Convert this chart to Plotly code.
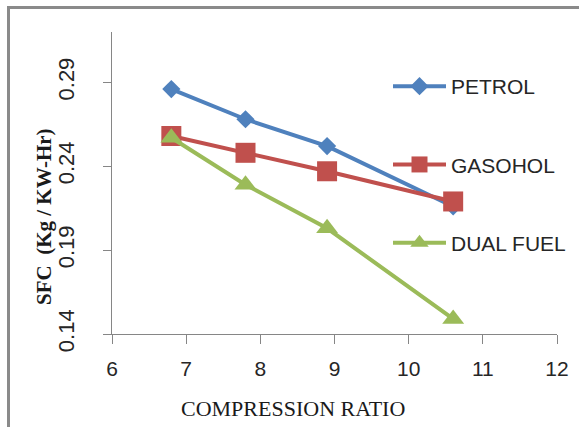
import plotly.graph_objects as go

# Specific fuel consumption against compression ratio
compression_ratio = [6.8, 7.8, 8.9, 10.6]
petrol = [0.286, 0.268, 0.252, 0.216]
gasohol = [0.258, 0.248, 0.237, 0.219]
dual_fuel = [0.257, 0.229, 0.203, 0.149]

series_names = ["PETROL", "GASOHOL", "DUAL FUEL"]
series_values = [petrol, gasohol, dual_fuel]
series_colors = ["#4F81BD", "#C0504D", "#9BBB59"]
series_symbols = ["diamond", "square", "triangle-up"]
series_sizes = [14, 20, 19]

x_ticks = [6, 7, 8, 9, 10, 11, 12]
y_ticks = [0.14, 0.19, 0.24, 0.29]

W, H = 579, 427
L, R, T, B = 112, 22, 32, 93
PW, PH = W - L - R, H - T - B


def px_x(px):
    return (px - L) / PW


def px_y(py):
    return (H - B - py) / PH


fig = go.Figure()
for i, (name, vals, col, sym, sz) in enumerate(
        zip(series_names, series_values, series_colors, series_symbols, series_sizes)):
    fig.add_trace(go.Scatter(
        x=compression_ratio, y=vals, name=name, mode="lines+markers",
        line=dict(color=col, width=4),
        marker=dict(color=col, symbol=sym, size=sz, line=dict(width=0)),
        legendgroup=f"g{i}",
    ))

axis_color = "#868686"
tick_font = dict(family="Liberation Sans, Arial, sans-serif", size=21, color="#262626")

fig.update_layout(
    width=W, height=H,
    margin=dict(l=L, r=R, t=T, b=B, pad=0, autoexpand=False),
    paper_bgcolor="white", plot_bgcolor="white",
    showlegend=True,
    legend=dict(
        x=px_x(388), y=px_y(66), xanchor="left", yanchor="top",
        font=dict(family="Liberation Sans, Arial, sans-serif", size=21, color="#262626"),
        tracegroupgap=48, bgcolor="rgba(0,0,0,0)", borderwidth=0,
        itemwidth=53,
    ),
    xaxis=dict(
        range=[6, 12], tickvals=x_ticks, ticktext=[str(v) for v in x_ticks],
        showgrid=False, zeroline=False, showline=True, linecolor=axis_color, linewidth=1.2,
        ticks="outside", ticklen=9, tickcolor=axis_color, tickwidth=1.2,
        tickfont=tick_font, ticklabelstandoff=7, automargin=False,
    ),
    yaxis=dict(
        range=[0.14, 0.32], tickvals=y_ticks, ticktext=[f"{v:.2f}" for v in y_ticks],
        showgrid=False, zeroline=False, showline=True, linecolor=axis_color, linewidth=1.2,
        ticks="outside", ticklen=8, tickcolor=axis_color, tickwidth=1.2,
        tickfont=dict(tick_font, size=22), tickangle=-90, ticklabelstandoff=20,
        automargin=False,
    ),
    annotations=[
        dict(text="<b>SFC  (Kg / KW-Hr)</b>", xref="paper", yref="paper",
             x=px_x(44), y=px_y(217), xanchor="center", yanchor="middle",
             textangle=-90, showarrow=False,
             font=dict(family="Liberation Serif, Times New Roman, serif", size=21, color="#1a1a1a")),
        dict(text="COMPRESSION RATIO", xref="paper", yref="paper",
             x=px_x(293), y=px_y(408), xanchor="center", yanchor="middle",
             showarrow=False,
             font=dict(family="Liberation Serif, Times New Roman, serif", size=22, color="#1a1a1a")),
    ],
    shapes=[
        dict(type="rect", xref="paper", yref="paper",
             x0=px_x(8.5), x1=px_x(640), y0=px_y(470), y1=px_y(7.5),
             line=dict(color="#8a8a8a", width=3), fillcolor="rgba(0,0,0,0)", layer="below"),
    ],
)

fig.write_html("out.html")
